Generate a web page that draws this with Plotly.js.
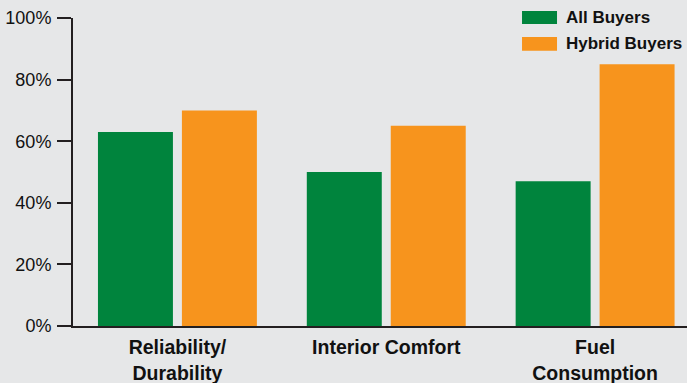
<!DOCTYPE html>
<html>
<head>
<meta charset="utf-8">
<script src="https://cdn.plot.ly/plotly-3.0.1.min.js"></script>
<style>html,body{margin:0;padding:0;background:#e6e7e8;}#chart{width:687px;height:383px;}</style>
</head>
<body>
<div id="chart"></div>
<script>
const categories = ["Reliability/<br>Durability", "Interior Comfort", "Fuel<br>Consumption"];
const seriesNames = ["All Buyers", "Hybrid Buyers"];
const allBuyers = [63, 50, 47];
const hybridBuyers = [70, 65, 85];
const yTickVals = [0, 20, 40, 60, 80, 100];
const yTickText = ["0%", "20%", "40%", "60%", "80%", "100%"];
const colors = ["#00843d", "#f7941d"];

const traces = [
  {type: "bar", x: categories, y: allBuyers, name: seriesNames[0], marker: {color: colors[0]}, showlegend: false, hoverinfo: "skip"},
  {type: "bar", x: categories, y: hybridBuyers, name: seriesNames[1], marker: {color: colors[1]}, showlegend: false, hoverinfo: "skip"}
];

const legendY = [[1.0227, 0.9805, 1.0016], [0.9383, 0.8938, 0.9172]];
const shapes = [];
const annotations = [];
seriesNames.forEach((n, i) => {
  shapes.push({type: "rect", xref: "paper", yref: "paper", x0: 0.7313, x1: 0.7883,
    y0: legendY[i][1], y1: legendY[i][0], fillcolor: colors[i], line: {width: 0}});
  annotations.push({xref: "paper", yref: "paper", x: 0.800, y: legendY[i][2], xanchor: "left", yanchor: "middle",
    text: "<b>" + n + "</b>", showarrow: false, font: {family: "Liberation Sans, Arial, sans-serif", size: 17, color: "#111"}});
});

const layout = {
  width: 687, height: 383,
  margin: {l: 73, r: 0, t: 18, b: 57},
  paper_bgcolor: "#e6e7e8", plot_bgcolor: "#e6e7e8",
  barmode: "group", bargap: 0.196, bargroupgap: 0.107,
  font: {family: "Liberation Sans, Arial, sans-serif", color: "#111"},
  xaxis: {type: "category", range: [-0.5, 2.44], showline: true, linecolor: "#231f20", linewidth: 2,
    ticks: "", showgrid: false, zeroline: false, fixedrange: true, ticklabelstandoff: 3,
    tickfont: {size: 19.5, family: "Liberation Sans, Arial, sans-serif", color: "#111"},
    tickvals: categories, ticktext: categories.map(c => "<b>" + c + "</b>")},
  yaxis: {range: [0, 100], showline: true, linecolor: "#231f20", linewidth: 2, ticks: "outside", ticklen: 14,
    tickwidth: 2, tickcolor: "#231f20", showgrid: false, zeroline: false, fixedrange: true,
    tickvals: yTickVals, ticktext: yTickText, tickfont: {size: 18, color: "#111"}, ticklabelstandoff: 2},
  shapes: shapes,
  annotations: annotations,
  showlegend: false
};

Plotly.newPlot("chart", traces, layout, {displayModeBar: false, staticPlot: true});
</script>
</body>
</html>
